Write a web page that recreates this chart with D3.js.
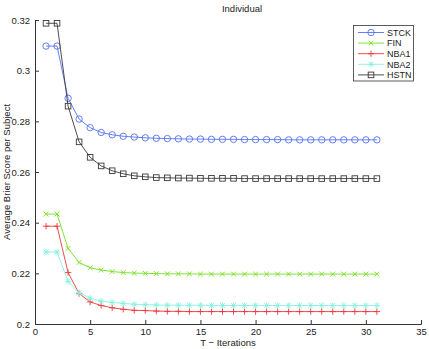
<!DOCTYPE html>
<html>
<head>
<meta charset="utf-8">
<script src="https://cdn.jsdelivr.net/npm/d3@7/dist/d3.min.js"></script>
<style>
 body { margin: 0; background: #fff; }
 svg { font-family: "Liberation Sans", Arial, sans-serif; }
 .axis text { font-size: 9.5px; fill: #222; }
</style>
</head>
<body>
<svg id="chart" width="429" height="349"></svg>
<script>
 // iterations 1..31
 var iters = d3.range(1, 32);

 var stck = [0.3097, 0.3097, 0.2891, 0.2809, 0.2775, 0.2756, 0.2747, 0.2741, 0.2738, 0.2735,
             0.2733, 0.2732, 0.2731, 0.2730, 0.2730, 0.2729, 0.2729, 0.2729, 0.2728, 0.2728,
             0.2728, 0.2728, 0.2727, 0.2727, 0.2727, 0.2727, 0.2727, 0.2727, 0.2727, 0.2727, 0.2727];
 var fin  = [0.2434, 0.2434, 0.2298, 0.2243, 0.2222, 0.2213, 0.2207, 0.2203, 0.2201, 0.2200,
             0.2199, 0.2198, 0.2198, 0.2198, 0.2197, 0.2197, 0.2197, 0.2197, 0.2197, 0.2197,
             0.2197, 0.2197, 0.2197, 0.2197, 0.2197, 0.2197, 0.2197, 0.2197, 0.2197, 0.2197, 0.2197];
 var nba1 = [0.2386, 0.2386, 0.2203, 0.2120, 0.2087, 0.2073, 0.2064, 0.2058, 0.2054, 0.2053,
             0.2051, 0.2050, 0.2050, 0.2049, 0.2049, 0.2049, 0.2049, 0.2049, 0.2049, 0.2049,
             0.2049, 0.2049, 0.2049, 0.2049, 0.2049, 0.2049, 0.2049, 0.2049, 0.2049, 0.2049, 0.2049];
 var nba2 = [0.2284, 0.2284, 0.2168, 0.2123, 0.2102, 0.2090, 0.2085, 0.2081, 0.2078, 0.2076,
             0.2075, 0.2074, 0.2074, 0.2074, 0.2074, 0.2073, 0.2073, 0.2073, 0.2073, 0.2073,
             0.2073, 0.2073, 0.2073, 0.2073, 0.2073, 0.2073, 0.2073, 0.2073, 0.2073, 0.2073, 0.2073];
 var hstn = [0.3187, 0.3187, 0.2860, 0.2719, 0.2658, 0.2624, 0.2605, 0.2593, 0.2585, 0.2581,
             0.2578, 0.2577, 0.2576, 0.2576, 0.2575, 0.2575, 0.2575, 0.2575, 0.2574, 0.2574,
             0.2574, 0.2574, 0.2574, 0.2574, 0.2574, 0.2574, 0.2574, 0.2574, 0.2574, 0.2574, 0.2574];

 var names = ["STCK", "FIN", "NBA1", "NBA2", "HSTN"];
 var colors = ["#5470f5", "#74e020", "#f03838", "#88f2e2", "#3a3a3a"];
 var markers = ["circle", "x", "plus", "star", "square"];
 var xTicks = [0, 5, 10, 15, 20, 25, 30, 35];
 var yTicks = [0.2, 0.22, 0.24, 0.26, 0.28, 0.3, 0.32];

 var series = [stck, fin, nba1, nba2, hstn];

 var margin = {left: 35, top: 20, right: 8, bottom: 25};
 var W = 429, H = 349;
 var svg = d3.select("#chart");

 var x = d3.scaleLinear().domain([0, 35]).range([margin.left, W - margin.right]);
 var y = d3.scaleLinear().domain([0.2, 0.32]).range([H - margin.bottom, margin.top]);

 // axes, ticks inward like matlab
 var xa = svg.append("g").attr("class", "axis")
     .attr("transform", "translate(0," + y(0.2) + ")")
     .call(d3.axisBottom(x).tickValues(xTicks).tickSize(-4).tickPadding(4).tickFormat(d3.format("d")));
 var ya = svg.append("g").attr("class", "axis")
     .attr("transform", "translate(" + x(0) + ",0)")
     .call(d3.axisLeft(y).tickValues(yTicks).tickSize(-4).tickPadding(5)
           .tickFormat(function(d){ return d3.format("")(+d.toFixed(2)); }));
 svg.selectAll(".axis path, .axis line").attr("stroke", "#333");

 svg.append("text").attr("x", x(17.5) + 14).attr("y", 12)
    .attr("text-anchor", "middle").attr("font-size", 9.5).attr("fill", "#222").text("Individual");
 svg.append("text").attr("x", 228).attr("y", 346)
    .attr("text-anchor", "middle").attr("font-size", 9.5).attr("fill", "#222").text("T \u2212 Iterations");
 svg.append("text").attr("transform", "translate(10," + y(0.26) + ") rotate(-90)")
    .attr("text-anchor", "middle").attr("font-size", 9.5).attr("fill", "#222")
    .text("Average Brier Score per Subject");

 function drawMarker(g, type, cx, cy, col) {
     var r = 3.2;
     if (type == "circle") {
         g.append("circle").attr("cx", cx).attr("cy", cy).attr("r", r)
          .attr("fill", "none").attr("stroke", col).attr("stroke-width", 0.9);
     } else if (type == "square") {
         g.append("rect").attr("x", cx - 2.8).attr("y", cy - 2.8).attr("width", 5.6).attr("height", 5.6)
          .attr("fill", "none").attr("stroke", col).attr("stroke-width", 0.9);
     } else {
         var p = "";
         if (type == "plus" || type == "star") p += "M" + (cx - r) + "," + cy + "H" + (cx + r) + "M" + cx + "," + (cy - r) + "V" + (cy + r);
         if (type == "x" || type == "star") {
             var d = r * 0.75;
             p += "M" + (cx - d) + "," + (cy - d) + "L" + (cx + d) + "," + (cy + d) +
                  "M" + (cx - d) + "," + (cy + d) + "L" + (cx + d) + "," + (cy - d);
         }
         g.append("path").attr("d", p).attr("stroke", col).attr("stroke-width", 0.9).attr("fill", "none");
     }
 }

 var line = d3.line().x(function(d, i){ return x(iters[i]); }).y(function(d){ return y(d); });

 series.forEach(function(vals, k) {
     var g = svg.append("g");
     g.append("path").datum(vals).attr("d", line)
      .attr("fill", "none").attr("stroke", colors[k]).attr("stroke-width", 0.9);
     vals.forEach(function(v, i) { drawMarker(g, markers[k], x(iters[i]), y(v), colors[k]); });
 });

 // legend
 var lg = svg.append("g");
 lg.append("rect").attr("x", 353.5).attr("y", 25.5).attr("width", 60).attr("height", 55.5)
   .attr("fill", "#fff").attr("stroke", "#333").attr("stroke-width", 0.8);
 names.forEach(function(n, k) {
     var ly = 32.5 + k * 10.6;
     lg.append("line").attr("x1", 358).attr("x2", 384).attr("y1", ly).attr("y2", ly)
       .attr("stroke", colors[k]).attr("stroke-width", 0.9);
     drawMarker(lg, markers[k], 371, ly, colors[k]);
     lg.append("text").attr("x", 387).attr("y", ly + 3.3).attr("font-size", 9).attr("fill", "#222").text(n);
 });
</script>
</body>
</html>
